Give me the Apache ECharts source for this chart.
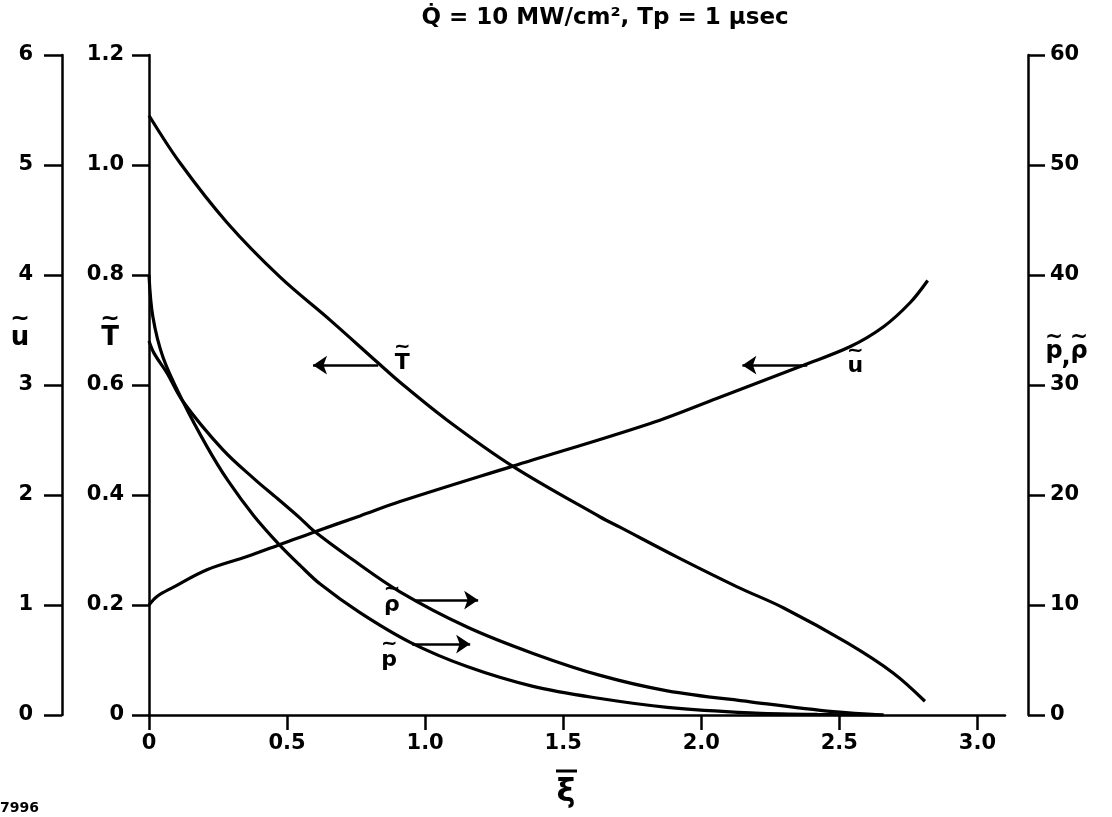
<!DOCTYPE html>
<html><head><meta charset="utf-8">
<script src="https://cdn.jsdelivr.net/npm/echarts@6/dist/echarts.min.js"></script>
<style>html,body{margin:0;padding:0;background:#fff}#c{width:1112px;height:817px}</style>
</head><body><div id="c"></div>
<script>
// ---- data ----
const xTicks = [0, 0.5, 1.0, 1.5, 2.0, 2.5, 3.0];
const xiT = [0, 0.112, 0.283, 0.475, 0.656, 0.83, 0.909, 1.08, 1.315, 1.634, 1.707, 1.913, 2.13, 2.297, 2.529, 2.696, 2.81];
const T   = [1.09, 1.004, 0.895, 0.796, 0.718, 0.64, 0.605, 0.536, 0.453, 0.36, 0.341, 0.287, 0.233, 0.195, 0.131, 0.076, 0.025];
const xiU = [0, 0.03, 0.087, 0.21, 0.355, 0.475, 0.594, 0.764, 0.909, 1.315, 1.815, 2.058, 2.37, 2.54, 2.66, 2.757, 2.82];
const U   = [1.0, 1.08, 1.16, 1.32, 1.44, 1.55, 1.66, 1.81, 1.94, 2.26, 2.65, 2.88, 3.18, 3.35, 3.53, 3.75, 3.95];
const xiP = [0, 0.014, 0.051, 0.123, 0.21, 0.286, 0.38, 0.475, 0.547, 0.62, 0.764, 0.946, 1.152, 1.391, 1.634, 1.877, 2.178, 2.42, 2.66];
const P   = [40, 36.2, 32.5, 28.5, 24.4, 21.3, 18.1, 15.4, 13.6, 11.9, 9.3, 6.6, 4.4, 2.6, 1.5, 0.7, 0.2, 0.05, 0];
const xiRho = [0, 0.018, 0.065, 0.123, 0.268, 0.384, 0.464, 0.547, 0.594, 0.728, 0.909, 1.152, 1.391, 1.634, 1.877, 2.178, 2.478, 2.66];
const Rho   = [34, 32.9, 31.1, 28.5, 24.1, 21.4, 19.7, 17.9, 16.8, 14.3, 11.2, 8.0, 5.6, 3.6, 2.2, 1.2, 0.3, 0];

const FONT = 'DejaVu Sans';
const pair = (xs, ys) => xs.map((x, i) => [x, ys[i]]);
const fmt1 = v => v === 0 ? '0' : v.toFixed(1);

const chart = echarts.init(document.getElementById('c'), null, {renderer: 'canvas'});
const lineW = 3.2;
const labelStyle = {color: '#000', fontFamily: FONT, fontSize: 21, fontWeight: 'bold'};
const axisCommon = {
  axisLine: {show: true, lineStyle: {color: '#000', width: 2.5}},
  axisTick: {show: true, inside: false, lineStyle: {color: '#000', width: 2.5}},
  splitLine: {show: false},
  axisLabel: labelStyle
};
const arrowML = (a, b) => ({
  silent: true, animation: false,
  symbol: ['none', 'arrow'], symbolSize: 14,
  lineStyle: {color: '#000', width: 2.5, type: 'solid'},
  label: {show: false},
  data: [[{coord: a}, {coord: b}]]
});
const lineSeries = (name, axis, data, ml) => ({
  name, type: 'line', yAxisIndex: axis, data, showSymbol: false, smooth: 0.35,
  lineStyle: {color: '#000', width: lineW}, markLine: ml
});

chart.setOption({
  animation: false,
  backgroundColor: '#fff',
  grid: {left: 149, right: 107, top: 55, bottom: 102, containLabel: false},
  xAxis: {
    type: 'value', min: 0, max: 3.1,
    axisLine: {show: true, onZero: false, lineStyle: {color: '#000', width: 2.5}},
    axisTick: {show: true, length: 15, customValues: xTicks, lineStyle: {color: '#000', width: 2.5}},
    splitLine: {show: false},
    axisLabel: Object.assign({}, labelStyle, {margin: 18, customValues: xTicks, formatter: fmt1})
  },
  yAxis: [
    Object.assign({}, axisCommon, {type: 'value', position: 'left', offset: 0, min: 0, max: 1.2, interval: 0.2,
      axisTick: Object.assign({}, axisCommon.axisTick, {length: 17}),
      axisLabel: Object.assign({}, labelStyle, {margin: 25, formatter: fmt1})}),
    Object.assign({}, axisCommon, {type: 'value', position: 'left', offset: 87, min: 0, max: 6, interval: 1,
      axisTick: Object.assign({}, axisCommon.axisTick, {length: 18}),
      axisLabel: Object.assign({}, labelStyle, {margin: 29})}),
    Object.assign({}, axisCommon, {type: 'value', position: 'right', offset: 23, min: 0, max: 60, interval: 10,
      axisTick: Object.assign({}, axisCommon.axisTick, {length: 17}),
      axisLabel: Object.assign({}, labelStyle, {margin: 22})})
  ],
  series: [
    lineSeries('T', 0, pair(xiT, T), arrowML([0.83, 0.636], [0.594, 0.636])),
    lineSeries('u', 1, pair(xiU, U), arrowML([2.384, 3.18], [2.149, 3.18])),
    lineSeries('p', 2, pair(xiP, P), arrowML([0.953, 6.45], [1.163, 6.45])),
    lineSeries('rho', 2, pair(xiRho, Rho), arrowML([0.964, 10.45], [1.192, 10.45]))
  ]
});

// letter with a tilde drawn above it
const tl = (letter, pt, size, dy) => {
  const s = size || 22;
  return [
    {type: 'text', x: pt[0], y: pt[1], style: {text: letter, fontFamily: FONT, fontSize: s, fontWeight: 'bold', fill: '#000', align: 'center', verticalAlign: 'middle'}},
    {type: 'text', x: pt[0], y: pt[1] - s * (dy || 0.72), style: {text: '~', fontFamily: FONT, fontSize: s * 0.9, fontWeight: 'bold', fill: '#000', align: 'center', verticalAlign: 'middle'}}
  ];
};
const pT = chart.convertToPixel({xAxisIndex: 0, yAxisIndex: 0}, [0.917, 0.64]);
const pU = chart.convertToPixel({xAxisIndex: 0, yAxisIndex: 1}, [2.558, 3.17]);
const pR = chart.convertToPixel({xAxisIndex: 0, yAxisIndex: 2}, [0.88, 10.0]);
const pP = chart.convertToPixel({xAxisIndex: 0, yAxisIndex: 2}, [0.87, 5.0]);

chart.setOption({
  graphic: [].concat(
    tl('T', pT), tl('u', pU), tl('\u03C1', pR), tl('p', pP),
    tl('u', [20, 338], 26), tl('T', [110, 338], 26), tl('p', [1054, 352], 24, 0.62), tl('\u03C1', [1079, 352], 24, 0.62),
    [
      {type: 'text', x: 1066, y: 358, style: {text: ',', fontFamily: FONT, fontSize: 24, fontWeight: 'bold', fill: '#000', align: 'center', verticalAlign: 'middle'}},
      {type: 'text', x: 605, y: 18, style: {text: 'Q\u0307 = 10 MW/cm\u00B2, Tp = 1 \u03BCsec', fontFamily: FONT, fontSize: 23, fontWeight: 'bold', fill: '#000', align: 'center', verticalAlign: 'middle'}},
      {type: 'text', x: 566, y: 793, style: {text: '\u03BE', fontFamily: FONT, fontSize: 32, fontWeight: 'bold', fill: '#000', align: 'center', verticalAlign: 'middle'}},
      {type: 'line', shape: {x1: 556, y1: 771, x2: 577, y2: 771}, style: {stroke: '#000', lineWidth: 3}},
      {type: 'text', x: 0, y: 808, style: {text: '7996', fontFamily: FONT, fontSize: 14, fontWeight: 'bold', fill: '#000', align: 'left', verticalAlign: 'middle'}}
    ]
  )
});
</script></body></html>
